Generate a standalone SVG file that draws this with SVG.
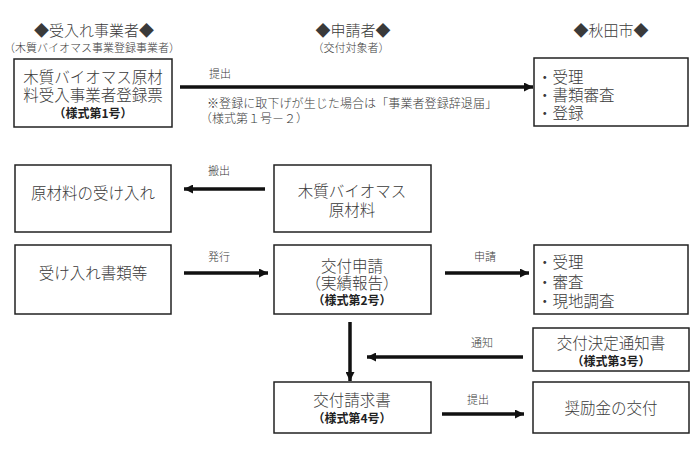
<svg xmlns="http://www.w3.org/2000/svg" width="690" height="454" viewBox="0 0 690 454">
<style>
text{font-family:"Noto Sans CJK JP","Noto Sans CJK SC",sans-serif;fill:#3a3a3a;font-weight:300}
.h{font-size:15px}
.s{font-size:11px}
.m{font-size:15.5px}
.b{font-size:12px;font-weight:bold;fill:#222}
.l{font-size:11px}
.n{font-size:12px}
.c{text-anchor:middle}
rect{fill:#fff;stroke:#222;stroke-width:1.5}
.a{stroke:#111;stroke-width:3.5;fill:none;marker-end:url(#ah)}
</style>
<defs>
<marker id="ah" markerUnits="userSpaceOnUse" viewBox="0 0 10 10" refX="10" refY="5" markerWidth="10" markerHeight="9" orient="auto">
<path d="M0,0L10,5L0,10z" fill="#111"/>
</marker>
</defs>
<rect x="0" y="0" width="690" height="454" style="stroke:none"/>
<g id="headers">
<text class="h c" x="94" y="36">◆受入れ事業者◆</text>
<text class="s c" x="92" y="52">（木質バイオマス事業登録事業者）</text>
<text class="h c" x="353" y="36">◆申請者◆</text>
<text class="s c" x="351" y="52">（交付対象者）</text>
<text class="h c" x="611" y="36">◆秋田市◆</text>
</g>
<g id="n_touroku">
<rect x="14" y="59" width="158" height="68"/>
<text class="m c" x="93" y="83">木質バイオマス原材</text>
<text class="m c" x="93" y="101">料受入事業者登録票</text>
<text class="b c" x="93" y="118">（様式第1号）</text>
</g>
<g id="n_akita1">
<rect x="534" y="58" width="154" height="68"/>
<text class="m" x="537" y="83">・受理</text>
<text class="m" x="537" y="101">・書類審査</text>
<text class="m" x="537" y="119">・登録</text>
</g>
<g id="n_ukeire">
<rect x="15" y="165" width="156" height="67"/>
<text class="m c" x="93" y="199">原材料の受け入れ</text>
</g>
<g id="n_genzairyo">
<rect x="274" y="165" width="157" height="67"/>
<text class="m c" x="352" y="197">木質バイオマス</text>
<text class="m c" x="352" y="216">原材料</text>
</g>
<g id="n_shorui">
<rect x="15" y="245" width="156" height="69"/>
<text class="m c" x="93" y="279">受け入れ書類等</text>
</g>
<g id="n_shinsei">
<rect x="274" y="245" width="157" height="69"/>
<text class="m c" x="352" y="272">交付申請</text>
<text class="m c" x="352" y="289">（実績報告）</text>
<text class="b c" x="352" y="305">（様式第2号）</text>
</g>
<g id="n_akita2">
<rect x="534" y="245" width="154" height="69"/>
<text class="m" x="537" y="268">・受理</text>
<text class="m" x="537" y="288">・審査</text>
<text class="m" x="537" y="307">・現地調査</text>
</g>
<g id="n_kettei">
<rect x="533" y="328" width="156" height="43"/>
<text class="m c" x="611" y="349">交付決定通知書</text>
<text class="b c" x="611" y="366">（様式第3号）</text>
</g>
<g id="n_seikyu">
<rect x="274" y="382" width="157" height="51"/>
<text class="m c" x="352" y="406">交付請求書</text>
<text class="b c" x="352" y="423">（様式第4号）</text>
</g>
<g id="n_shoureikin">
<rect x="533" y="382" width="156" height="51"/>
<text class="m c" x="611" y="414">奨励金の交付</text>
</g>
<g id="connectors">
<line class="a" x1="180" y1="87" x2="533" y2="87"/>
<text class="l c" x="220" y="78">提出</text>
<text class="n" x="207" y="108" textLength="290" lengthAdjust="spacing">※登録に取下げが生じた場合は「事業者登録辞退届」</text>
<text class="n" x="200" y="123">（様式第１号－２）</text>
<line class="a" x1="265" y1="189" x2="184" y2="189"/>
<text class="l c" x="219" y="175">搬出</text>
<line class="a" x1="184" y1="273" x2="268" y2="273"/>
<text class="l c" x="219" y="261">発行</text>
<line class="a" x1="445" y1="273" x2="529" y2="273"/>
<text class="l c" x="485" y="261">申請</text>
<line class="a" x1="523" y1="357" x2="367" y2="357"/>
<text class="l c" x="482" y="347">通知</text>
<line class="a" x1="350" y1="322" x2="350" y2="381"/>
<line class="a" x1="442" y1="414" x2="524" y2="414"/>
<text class="l c" x="478" y="404">提出</text>
</g>
</svg>
